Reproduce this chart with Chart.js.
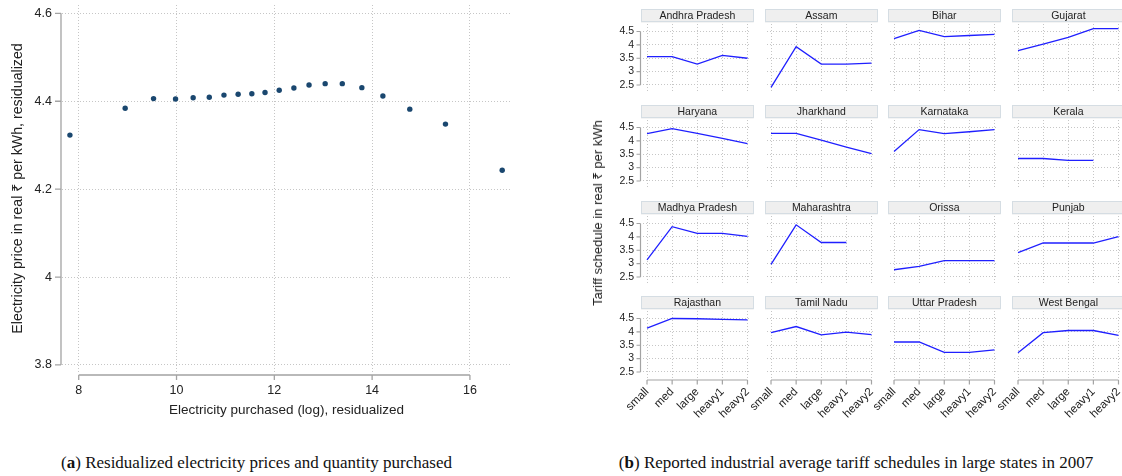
<!DOCTYPE html>
<html><head><meta charset="utf-8">
<script src="https://cdn.jsdelivr.net/npm/chart.js@4.4.1/dist/chart.umd.min.js"></script>
<style>
html,body{margin:0;padding:0;background:#fff;width:1122px;height:476px;overflow:hidden;position:relative;font-family:"Liberation Sans","Noto Sans","DejaVu Sans",sans-serif;}
canvas{position:absolute;}
.cap{position:absolute;font-family:"Liberation Serif","DejaVu Serif",serif;font-size:17px;line-height:20px;color:#111;text-align:center;white-space:nowrap;}
#rtitle{position:absolute;left:597px;top:213px;transform:translate(-50%,-50%) rotate(-90deg);font-size:13px;color:#222;white-space:nowrap;will-change:transform;-webkit-font-smoothing:antialiased;}
</style></head><body>
<canvas id="scatter" width="525" height="425" style="left:0;top:0"></canvas>
<div id="panels"></div>
<div class="cap" style="left:0;width:513px;top:453px">(<b>a</b>) Residualized electricity prices and quantity purchased</div>
<div class="cap" style="left:590px;width:532px;top:453px">(<b>b</b>) Reported industrial average tariff schedules in large states in 2007</div>
<div id="rtitle">Tariff schedule in real ₹ per kWh</div>
<script>
// ---- Panel (a) data ----
const purchasedLog = [7.82, 8.95, 9.53, 9.98, 10.34, 10.67, 10.97, 11.26, 11.54, 11.81, 12.10, 12.40, 12.71, 13.04, 13.39, 13.79, 14.22, 14.77, 15.50, 16.66];
const pricePerKWh  = [4.323, 4.384, 4.406, 4.405, 4.408, 4.409, 4.414, 4.416, 4.417, 4.420, 4.425, 4.430, 4.437, 4.440, 4.440, 4.431, 4.412, 4.382, 4.348, 4.243];
const scatterXTicks = [8, 10, 12, 14, 16];
const scatterYTicks = [3.8, 4, 4.2, 4.4, 4.6];

// ---- Panel (b) data ----
const categories = ['small', 'med', 'large', 'heavy1', 'heavy2'];
const states = ['Andhra Pradesh','Assam','Bihar','Gujarat','Haryana','Jharkhand','Karnataka','Kerala',
                'Madhya Pradesh','Maharashtra','Orissa','Punjab','Rajasthan','Tamil Nadu','Uttar Pradesh','West Bengal'];
const andhraPradesh = [3.56, 3.56, 3.28, 3.61, 3.50];
const assam         = [2.41, 3.93, 3.28, 3.28, 3.32];
const bihar         = [4.23, 4.54, 4.31, 4.35, 4.39];
const gujarat       = [3.78, 4.03, 4.28, 4.61, 4.61];
const haryana       = [4.27, 4.46, 4.28, 4.09, 3.90];
const jharkhand     = [4.28, 4.28, 4.03, 3.77, 3.52];
const karnataka     = [3.60, 4.42, 4.27, 4.34, 4.42];
const kerala        = [3.34, 3.34, 3.27, 3.27, null];
const madhyaPradesh = [3.14, 4.38, 4.13, 4.13, 4.02];
const maharashtra   = [2.97, 4.45, 3.79, 3.79, null];
const orissa        = [2.77, 2.90, 3.11, 3.11, 3.11];
const punjab        = [3.41, 3.77, 3.77, 3.77, 4.01];
const rajasthan     = [4.14, 4.50, 4.49, 4.47, 4.45];
const tamilNadu     = [3.97, 4.20, 3.89, 3.99, 3.90];
const uttarPradesh  = [3.62, 3.62, 3.23, 3.23, 3.33];
const westBengal    = [3.22, 3.97, 4.05, 4.05, 3.87];
const tariffs = [andhraPradesh, assam, bihar, gujarat, haryana, jharkhand, karnataka, kerala,
                 madhyaPradesh, maharashtra, orissa, punjab, rajasthan, tamilNadu, uttarPradesh, westBengal];
const panelYTicks = [2.5, 3, 3.5, 4, 4.5];
const panelXTicks = [0, 1, 2, 3, 4];

const FONT = '"Liberation Sans", "Noto Sans", "DejaVu Sans", sans-serif';
const GRID = '#c6c6c6';
const AXIS = '#a3a3a3';

const deco = {
  id: 'deco',
  beforeDraw(chart, args, o) {
    if (!o.title) return;
    const {ctx, chartArea: a} = chart;
    ctx.save();
    const bx = a.left - 2, by = a.top - 14.7, bw = a.right - a.left + 5.7, bh = 13.4;
    ctx.fillStyle = '#efefef';
    ctx.fillRect(bx, by, bw, bh);
    ctx.strokeStyle = '#d5dde3'; ctx.lineWidth = 1;
    ctx.strokeRect(Math.round(bx) + 0.5, Math.round(by) + 0.5, Math.round(bw) - 1, Math.round(bh) - 1);
    ctx.fillStyle = '#222';
    ctx.font = '10.5px ' + FONT;
    ctx.textAlign = 'center'; ctx.textBaseline = 'middle';
    ctx.fillText(o.title, bx + bw / 2, by + bh / 2 + 0.5);
    ctx.restore();
  },
  afterDraw(chart, args, o) {
    const {ctx, chartArea: a, scales: {x, y}} = chart;
    ctx.save();
    ctx.strokeStyle = AXIS; ctx.lineWidth = o.axisWidth || 1.2;
    if (o.showY) {
      const ax = a.left - o.yGap;
      const p = y.ticks.map(t => y.getPixelForValue(t.value));
      ctx.beginPath();
      ctx.moveTo(ax, Math.min(...p)); ctx.lineTo(ax, Math.max(...p));
      p.forEach(py => { ctx.moveTo(ax - o.yTick, py); ctx.lineTo(ax, py); });
      ctx.stroke();
    }
    if (o.showX) {
      const ay = a.bottom + o.xGap;
      const p = x.ticks.map(t => x.getPixelForValue(t.value));
      ctx.beginPath();
      ctx.moveTo(Math.min(...p), ay); ctx.lineTo(Math.max(...p), ay);
      p.forEach(px => { ctx.moveTo(px, ay); ctx.lineTo(px, ay + o.xTick); });
      ctx.stroke();
    }
    ctx.restore();
  }
};

const noPad = s => { s.paddingTop = 0; s.paddingBottom = 0; s.paddingLeft = 0; s.paddingRight = 0; };

// ---- Panel (a) ----
new Chart(document.getElementById('scatter'), {
  type: 'scatter',
  data: { datasets: [{
    data: purchasedLog.map((v, i) => ({x: v, y: pricePerKWh[i]})),
    backgroundColor: '#1a476f', borderColor: '#1a476f', borderWidth: 0,
    pointRadius: 2.7, pointHoverRadius: 2.7
  }]},
  options: {
    responsive: false, animation: false, events: [],
    layout: { padding: { left: 0, right: 14, top: 5, bottom: 0 } },
    plugins: { legend: {display: false}, tooltip: {enabled: false},
      deco: { showY: true, showX: true, yGap: 1, yTick: 6, xGap: 3, xTick: 5, axisWidth: 1.3 } },
    scales: {
      x: {
        type: 'linear', min: 7.658, max: 16.84,
        afterBuildTicks: s => { s.ticks = scatterXTicks.map(v => ({value: v})); },
        afterFit: s => { s.height = 53; noPad(s); },
        grid: { color: GRID, drawTicks: false, lineWidth: 1 },
        border: { display: false, dash: [1, 2] },
        ticks: { padding: 11, color: '#222', font: {size: 12.5, family: FONT}, autoSkip: false, maxRotation: 0,
                 callback: v => String(v) },
        title: { display: true, text: 'Electricity purchased (log), residualized', color: '#222',
                 font: {size: 13.5, family: FONT}, padding: {top: 0, bottom: 7} }
      },
      y: {
        type: 'linear', min: 3.784, max: 4.619,
        afterBuildTicks: s => { s.ticks = scatterYTicks.map(v => ({value: v})); },
        afterFit: s => { s.width = 62; noPad(s); },
        grid: { color: GRID, drawTicks: false, lineWidth: 1 },
        border: { display: false, dash: [1, 2] },
        ticks: { padding: 10, color: '#222', font: {size: 12.5, family: FONT}, autoSkip: false,
                 callback: v => String(+v.toFixed(2)) },
        title: { display: true, text: 'Electricity price in real ₹ per kWh, residualized', color: '#222',
                 font: {size: 14.2, family: FONT}, padding: {top: 10, bottom: 0} }
      }
    }
  },
  plugins: [deco]
});

// ---- Panel (b) ----
const holder = document.getElementById('panels');
const PW = 141, PH = 130, PL = 30, PT = 16, PB = 45;
states.forEach((name, k) => {
  const c = k % 4, r = Math.floor(k / 4);
  const areaLeft = 643 + 123.57 * c;
  const areaTop = 24 + 95.8 * r;
  const cv = document.createElement('canvas');
  cv.width = PW; cv.height = PH;
  cv.style.left = Math.round(areaLeft - PL) + 'px';
  cv.style.top = Math.round(areaTop - PT) + 'px';
  holder.appendChild(cv);
  const vals = tariffs[k];
  new Chart(cv, {
    type: 'line',
    data: { datasets: [{
      data: vals.map((v, i) => ({x: i, y: v})),
      borderColor: '#1f1fff', borderWidth: 1.3, pointRadius: 0, tension: 0, fill: false, spanGaps: false
    }]},
    options: {
      responsive: false, animation: false, events: [],
      layout: { padding: { left: 0, right: PW - PL - 107, top: PT, bottom: 0 } },
      plugins: { legend: {display: false}, tooltip: {enabled: false},
        deco: { title: name, showY: c === 0, showX: r === 3, yGap: 2.5, yTick: 4, xGap: 0, xTick: 4.5, axisWidth: 1.2 } },
      scales: {
        x: {
          type: 'linear', min: -0.16, max: 4.1,
          afterBuildTicks: s => { s.ticks = panelXTicks.map(v => ({value: v})); },
          afterFit: s => { s.height = PB; noPad(s); },
          grid: { color: GRID, drawTicks: false, lineWidth: 1 },
          border: { display: false, dash: [1, 2] },
          ticks: { display: r === 3, padding: 5, color: '#222', font: {size: 11.5, family: FONT},
                   autoSkip: false, minRotation: 45, maxRotation: 45,
                   callback: v => categories[v] }
        },
        y: {
          type: 'linear', min: 2.2, max: 4.78,
          afterBuildTicks: s => { s.ticks = panelYTicks.map(v => ({value: v})); },
          afterFit: s => { s.width = PL; noPad(s); },
          grid: { color: GRID, drawTicks: false, lineWidth: 1 },
          border: { display: false, dash: [1, 2] },
          ticks: { display: c === 0, padding: 9, color: '#222', font: {size: 10.5, family: FONT},
                   autoSkip: false, callback: v => String(v) }
        }
      }
    },
    plugins: [deco]
  });
});
</script>
</body></html>
